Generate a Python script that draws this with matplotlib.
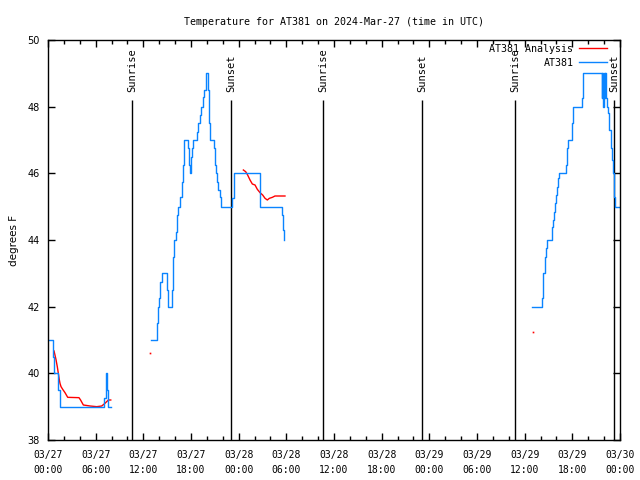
import numpy as np
import matplotlib
matplotlib.use("Agg")
import matplotlib.pyplot as plt

# hours since 2024-03-27 00:00 UTC
nan = np.nan

# AT381 observed temperature (deg F), step samples
obs_h = [0.0, 0.67, 0.8, 1.3, 1.5, 7.09, 7.26, 7.38, 7.5, 7.6, 7.89,
         12.93, 13.68, 13.8, 13.95, 14.05, 14.31, 14.94, 15.15, 15.65, 15.78, 15.9,
         16.11, 16.2, 16.4, 16.62, 16.83, 16.95, 17.08, 17.16, 17.66, 17.75, 17.83,
         18.04, 18.18, 18.29, 18.79, 18.92, 19.13, 19.3, 19.55, 19.68, 19.89, 20.18,
         20.27, 20.35, 20.85, 21.0, 21.17, 21.3, 21.45, 21.6, 21.74, 23.2, 23.35,
         23.45, 26.69, 29.5, 29.6, 29.7, 29.75,
         60.97, 62.15, 62.25, 62.37, 62.58, 62.7, 62.85, 63.4, 63.48, 63.6, 63.72,
         63.85, 63.93, 64.05, 64.2, 64.37, 65.17, 65.3, 65.42, 65.92, 66.0, 66.13,
         67.18, 67.3, 67.39, 69.7, 69.78, 69.85, 69.95, 70.05, 70.12, 70.2, 70.41,
         70.54, 70.66, 70.83, 70.95, 71.08, 71.25, 71.33, 72.0]
obs_t = [41, 40.5, 40, 39.5, 39, 39.25, 40, 39.5, 39.25, 39, nan,
         41, 41.5, 42, 42.25, 42.75, 43, 42.5, 42, 42.5, 43.5, 44,
         44.25, 44.75, 45, 45.3, 45.75, 46.25, 46.75, 47, 46.75, 46.25, 46,
         46.5, 46.75, 47, 47.25, 47.5, 47.75, 48, 48.3, 48.5, 49, 48.5,
         47.5, 47, 46.75, 46.25, 46, 45.75, 45.5, 45.3, 45, 45.25, 45.75,
         46, 45, 44.75, 44.3, 44.0, nan,
         42, 42.25, 42.75, 43, 43.5, 43.75, 44, 44.15, 44.4, 44.6, 44.85,
         45.1, 45.35, 45.6, 45.85, 46, 46.25, 46.75, 47, 47.25, 47.5, 48,
         48.25, 48.75, 49, 48.25, 49, 48.0, 49, 48.25, 49, 48.25, 48.0,
         47.8, 47.3, 46.75, 46.4, 46.0, 45.3, 45.0, 45.0]

# AT381 analysis (deg F)
ana_h = [0.76, 1.0, 1.17, 1.3, 1.43, 1.51, 1.64, 1.85, 2.14, 2.48, 3.9, 4.1,
         4.45, 5.29, 6.13, 6.76, 7.17, 7.6, 7.9, 8.0,
         24.59, 24.88, 25.13, 25.43, 25.72, 26.06, 26.35, 26.69, 27.02, 27.32,
         27.61, 27.86, 28.24, 28.57, 29.2, 29.83]
ana_t = [40.67, 40.42, 40.2, 40.0, 39.8, 39.7, 39.6, 39.52, 39.42, 39.28, 39.27, 39.2,
         39.05, 39.02, 39.0, 39.02, 39.1, 39.2, 39.2, nan,
         46.1, 46.05, 45.95, 45.8, 45.68, 45.65, 45.52, 45.42, 45.35, 45.25,
         45.2, 45.25, 45.28, 45.32, 45.32, 45.32]
ana_dot_h = [12.84, 61.0]
ana_dot_t = [40.6, 41.25]

sun_h = [10.57, 23.04, 34.62, 47.08, 58.79, 71.25]
sun_lbl = ["Sunrise", "Sunset", "Sunrise", "Sunset", "Sunrise", "Sunset"]

xtick_h = list(range(0, 73, 6))
xtick_lbl = ["03/27\n00:00", "03/27\n06:00", "03/27\n12:00", "03/27\n18:00",
             "03/28\n00:00", "03/28\n06:00", "03/28\n12:00", "03/28\n18:00",
             "03/29\n00:00", "03/29\n06:00", "03/29\n12:00", "03/29\n18:00",
             "03/30\n00:00"]

mono = "DejaVu Sans Mono"
blue = "#0a84ff"

fig = plt.figure(figsize=(6.4, 4.8), dpi=100)
ax = fig.add_axes([48/640, 40/480, 572/640, 400/480])

for h, s in zip(sun_h, sun_lbl):
    ax.vlines(h, 38, 48.2, color="black", lw=1)
    ax.text(h, 48.44, s, rotation=90, ha="center", va="bottom",
            family=mono, fontsize=7.5)

ax.plot(ana_h, ana_t, color="red", lw=1, label="AT381 Analysis")
ax.plot(ana_dot_h, ana_dot_t, ls="none", marker="s", ms=1.2, color="red", mew=0)
ax.plot(obs_h, obs_t, color=blue, lw=1.0, drawstyle="steps-post", label="AT381")

ax.set_xlim(0, 72)
ax.set_ylim(38, 50)
ax.set_xticks(xtick_h)
ax.set_xticklabels(xtick_lbl, family=mono, fontsize=7, linespacing=1.6)
ax.set_xticks(range(0, 73, 2), minor=True)
ax.set_yticks(range(38, 51, 2))
ax.tick_params(axis="y", labelsize=7, pad=6)
ax.tick_params(axis="x", pad=7)
ax.tick_params(which="both", direction="in", top=True, right=True, width=1)
ax.tick_params(which="major", length=5)
ax.tick_params(which="minor", length=3)
for sp in ax.spines.values():
    sp.set_linewidth(1)

ax.set_ylabel("degrees F", fontsize=7.5, labelpad=6)
ax.set_title("Temperature for AT381 on 2024-Mar-27 (time in UTC)",
             family=mono, fontsize=7.2, pad=11)
ax.legend(loc="upper right", frameon=False, markerfirst=False,
          prop={"family": mono, "size": 7.2}, handlelength=2.8,
          borderaxespad=0.3, borderpad=0.1, labelspacing=0.4, handletextpad=0.6,
          bbox_to_anchor=(0.985, 1.0))

fig.savefig("out.png", dpi=100)
